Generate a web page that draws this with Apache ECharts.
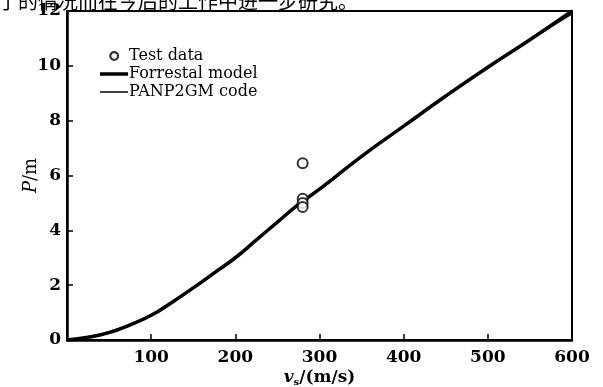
<!DOCTYPE html>
<html>
<head>
<meta charset="utf-8">
<script src="https://cdn.jsdelivr.net/npm/echarts@6/dist/echarts.min.js"></script>
<style>
  html, body { margin: 0; padding: 0; background: #fff; }
  #main { width: 603px; height: 387px; }
</style>
</head>
<body>
<div id="main"></div>
<script>
// 撞击速度 (m/s)
const vs = [0, 25, 50, 75, 100, 125, 150, 175, 200, 225, 250, 275, 300, 350, 400, 450, 500, 550, 600]
// Forrestal model 侵彻深度 (m)
const forrestal = [0, 0.1, 0.27, 0.55, 0.9, 1.38, 1.9, 2.45, 3.0, 3.65, 4.3, 4.95, 5.5, 6.7, 7.8, 8.9, 9.95, 10.95, 12]
// PANP2GM code
const panp = [0, 0.12, 0.3, 0.58, 0.92, 1.4, 1.92, 2.46, 3.02, 3.66, 4.3, 4.95, 5.48, 6.68, 7.8, 8.88, 9.92, 10.94, 11.9]
// 试验数据
const testV = [280, 280, 280, 280]
const testP = [6.45, 5.15, 5.0, 4.85]
const xTicks = [0, 100, 200, 300, 400, 500, 600]
const yTicks = [0, 2, 4, 6, 8, 10, 12]

const serif = '"DejaVu Serif", "Liberation Serif", serif'
const chart = echarts.init(document.getElementById('main'))

const zip = (a, b) => a.map((v, i) => [v, b[i]])

// 图例图标（四角放极小点，固定包围盒 28x14）
const box = 'M0,0 L0.01,0 Z M28,14 L27.99,14 Z '
const ringIcon = 'path://' + box +
  'M9.2,7 A5,5 0 1,0 19.2,7 A5,5 0 1,0 9.2,7 Z ' +
  'M11.5,7 A2.7,2.7 0 1,1 16.9,7 A2.7,2.7 0 1,1 11.5,7 Z'
const thickIcon = 'path://' + box + 'M0,5.2 L28,5.2 L28,8.8 L0,8.8 Z'
const thinIcon = 'path://' + box + 'M0,6.2 L28,6.2 L28,7.8 L0,7.8 Z'

const option = {
  animation: false,
  backgroundColor: '#fff',
  textStyle: { fontFamily: serif, color: '#000' },
  graphic: [
    {
      type: 'text',
      left: -2,
      top: -9,
      style: {
        text: '了的情况而在今后的工作中进一步研究。',
        font: '20px "Noto Sans CJK SC"',
        fill: '#000'
      }
    }
  ],
  grid: {
    left: 67,
    right: 31,
    top: 11,
    bottom: 47,
    outerBoundsMode: 'none',
    show: true,
    borderColor: '#000',
    borderWidth: 2
  },
  legend: {
    orient: 'vertical',
    left: 95,
    top: 43,
    itemGap: 2,
    itemWidth: 28,
    itemHeight: 14,
    textStyle: { fontFamily: serif, fontSize: 16, color: '#000', padding: [0, 0, 0, -4] },
    data: [
      { name: 'Test data', icon: ringIcon, itemStyle: { color: '#000', borderWidth: 0 } },
      { name: 'Forrestal model', icon: thickIcon },
      { name: 'PANP2GM code', icon: thinIcon }
    ]
  },
  xAxis: {
    type: 'value',
    min: 0,
    max: 600,
    interval: 100,
    name: '{i|v}{sub|s}/(m/s)',
    nameLocation: 'middle',
    nameMoveOverlap: false,
    nameGap: 29,
    nameTextStyle: {
      fontFamily: serif,
      fontSize: 17,
      fontWeight: 'bold',
      color: '#000',
      rich: {
        i: { fontFamily: serif, fontSize: 17, fontWeight: 'bold', fontStyle: 'italic' },
        sub: { fontFamily: serif, fontSize: 10, fontWeight: 'bold', verticalAlign: 'bottom', padding: [8, 0, 0, 0] }
      }
    },
    splitLine: { show: false },
    axisLine: { lineStyle: { color: '#000', width: 2.5 } },
    axisTick: { inside: true, length: 6, lineStyle: { color: '#000', width: 1.5 } },
    axisLabel: {
      fontFamily: serif,
      fontSize: 17,
      fontWeight: 'bold',
      color: '#000',
      margin: 9,
      formatter: v => (xTicks.includes(v) && v !== 0 ? String(v) : '')
    }
  },
  yAxis: {
    type: 'value',
    min: 0,
    max: 12,
    interval: 2,
    name: '{i|P}/m',
    nameLocation: 'middle',
    nameMoveOverlap: false,
    nameGap: 27,
    nameRotate: 90,
    nameTextStyle: {
      fontFamily: serif,
      fontSize: 18,
      color: '#000',
      rich: {
        i: { fontFamily: serif, fontSize: 18, fontStyle: 'italic' }
      }
    },
    splitLine: { show: false },
    axisLine: { lineStyle: { color: '#000', width: 2.5 } },
    axisTick: { inside: true, length: 6, lineStyle: { color: '#000', width: 1.5 } },
    axisLabel: {
      fontFamily: serif,
      fontSize: 17,
      fontWeight: 'bold',
      color: '#000',
      margin: 6,
      formatter: v => (yTicks.includes(v) ? String(v) : '')
    }
  },
  series: [
    {
      name: 'Test data',
      type: 'scatter',
      symbol: 'emptyCircle',
      symbolSize: 10,
      z: 5,
      itemStyle: { color: '#000', borderWidth: 2.5 },
      data: zip(testV, testP)
    },
    {
      name: 'Forrestal model',
      type: 'line',
      smooth: true,
      symbol: 'none',
      lineStyle: { color: '#000', width: 3.5 },
      itemStyle: { color: '#000' },
      data: zip(vs, forrestal)
    },
    {
      name: 'PANP2GM code',
      type: 'line',
      smooth: true,
      symbol: 'none',
      lineStyle: { color: '#000', width: 1.5 },
      itemStyle: { color: '#000' },
      data: zip(vs, panp)
    }
  ]
}

chart.setOption(option)
</script>
</body>
</html>
